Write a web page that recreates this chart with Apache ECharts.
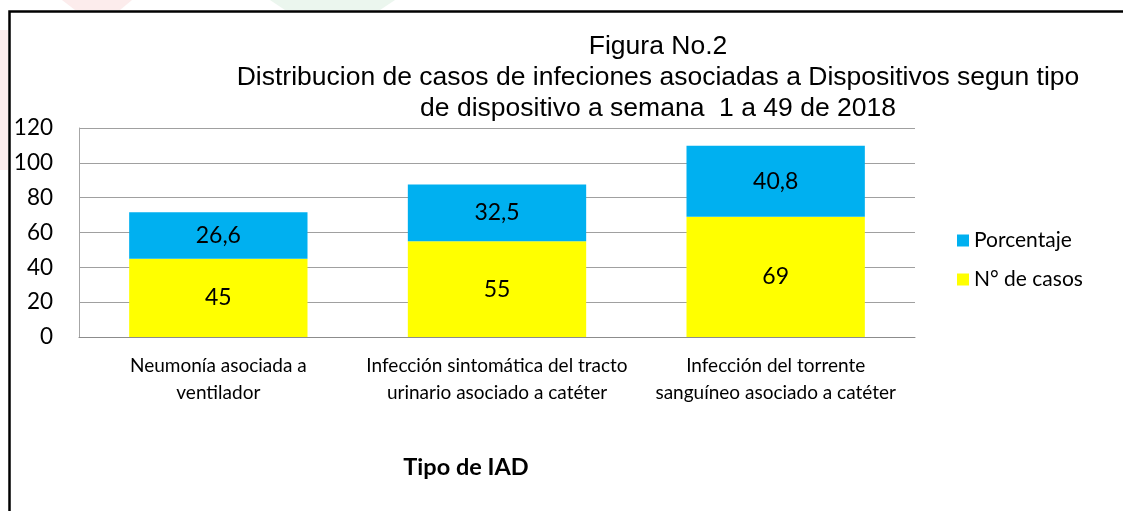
<!DOCTYPE html>
<html>
<head>
<meta charset="utf-8">
<script src="https://cdn.jsdelivr.net/npm/echarts@6/dist/echarts.min.js"></script>
<style>
html,body{margin:0;padding:0;background:#fff;}
#main{width:1123px;height:511px;}
</style>
</head>
<body>
<div id="main"></div>
<script>
const categories = [
  'Neumonía asociada a\nventilador',
  'Infección sintomática del tracto\nurinario asociado a catéter',
  'Infección del torrente\nsanguíneo asociado a catéter'
];
const casos = [45, 55, 69];
const porcentaje = [26.6, 32.5, 40.8];
const yTicks = { min: 0, max: 120, interval: 20 };
const titleText = 'Figura No.2\nDistribucion de casos de infeciones asociadas a Dispositivos segun tipo\nde dispositivo a semana  1 a 49 de 2018';
const xAxisTitle = 'Tipo de IAD';

const chart = echarts.init(document.getElementById('main'), null, { renderer: 'canvas' });
const labelFont = 'Lato, "Open Sans", sans-serif';
const fmt = p => String(p.value).replace('.', ',');
chart.setOption({
  animation: false,
  backgroundColor: '#fff',
  title: [{
    text: titleText,
    left: 653,
    top: 26,
    textAlign: 'center',
    textStyle: {
      fontFamily: '"Liberation Sans", Arial, sans-serif',
      fontSize: 26.5,
      fontWeight: 'normal',
      color: '#000',
      lineHeight: 31,
      align: 'center'
    }
  }, {
    text: xAxisTitle,
    left: 461,
    top: 450,
    textAlign: 'center',
    textStyle: {
      fontFamily: labelFont,
      fontSize: 23.5,
      fontWeight: 'bold',
      color: '#000'
    }
  }],
  graphic: [
    { type: 'rect', z: -10, shape: { x: 0, y: 30, width: 8, height: 140 }, style: { fill: '#fcecec' }, silent: true },
    { type: 'polygon', z: -10, shape: { points: [[62, 0], [132, 0], [120, 10], [75, 10]] }, style: { fill: '#fcecec' }, silent: true },
    { type: 'polygon', z: -10, shape: { points: [[270, 0], [395, 0], [380, 10], [285, 10]] }, style: { fill: '#ebf6ee' }, silent: true },
    {
      type: 'rect',
      shape: { x: 9.5, y: 11.5, width: 1200, height: 600 },
      style: { fill: 'none', stroke: '#000', lineWidth: 2.5 },
      silent: true
    }
  ],
  legend: {
    orient: 'vertical',
    left: 952,
    top: 225,
    itemWidth: 12,
    itemHeight: 12,
    itemGap: 18,
    icon: 'rect',
    data: ['Porcentaje', 'N° de casos'],
    textStyle: { fontFamily: labelFont, fontSize: 21, color: '#000', padding: [0, 0, 0, 0] }
  },
  grid: { left: 79, top: 128, right: 208, bottom: 174, containLabel: false },
  xAxis: {
    type: 'category',
    data: categories,
    axisLine: { show: true, lineStyle: { color: '#8c8c8c', width: 1 } },
    axisTick: { show: false },
    axisLabel: {
      fontFamily: labelFont,
      fontSize: 19,
      color: '#000',
      lineHeight: 27,
      margin: 15,
      interval: 0
    }
  },
  yAxis: {
    type: 'value',
    min: yTicks.min,
    max: yTicks.max,
    interval: yTicks.interval,
    axisLine: { show: true, lineStyle: { color: '#a6a6a6', width: 1 } },
    axisTick: { show: false },
    splitLine: { show: true, lineStyle: { color: '#a0a0a0', width: 1 } },
    axisLabel: { fontFamily: labelFont, fontSize: 22.5, color: '#000', margin: 26 }
  },
  series: [{
    name: 'N° de casos',
    type: 'bar',
    stack: 'total',
    data: casos,
    barWidth: '64%',
    itemStyle: { color: '#ffff00' },
    label: { show: true, position: 'inside', fontFamily: labelFont, fontSize: 23, color: '#000', formatter: fmt }
  }, {
    name: 'Porcentaje',
    type: 'bar',
    stack: 'total',
    data: porcentaje,
    barWidth: '64%',
    itemStyle: { color: '#00b0f0' },
    label: { show: true, position: 'inside', fontFamily: labelFont, fontSize: 23, color: '#000', formatter: fmt }
  }]
});
</script>
</body>
</html>
